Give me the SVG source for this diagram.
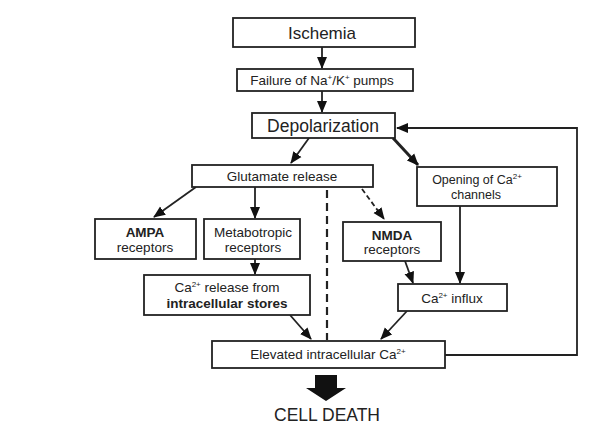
<svg xmlns="http://www.w3.org/2000/svg" width="605" height="440" viewBox="0 0 605 440">
<style>
.box{fill:#fff;stroke:#222;stroke-width:1.8}
.t{font-family:"Liberation Sans",Arial,sans-serif;fill:#222;text-anchor:middle}
.s{font-size:13.5px}
.m{font-size:12.5px}
.b{font-weight:bold}
.sup{font-size:8px}
.ln{fill:none;stroke:#222;stroke-width:1.8}
</style>
<defs>
<marker id="ah" markerUnits="userSpaceOnUse" markerWidth="12" markerHeight="12" viewBox="0 0 12 12" refX="11" refY="6" orient="auto">
<path d="M0,1 L12,6 L0,11 Z" fill="#111"/>
</marker>
</defs>
<rect width="605" height="440" fill="#fff"/>
<g id="connectors">
<line class="ln" x1="322" y1="47" x2="322" y2="68" marker-end="url(#ah)"/>
<line class="ln" x1="322" y1="91" x2="322" y2="112" marker-end="url(#ah)"/>
<line class="ln" x1="309" y1="138" x2="291" y2="163" marker-end="url(#ah)"/>
<line class="ln" x1="393" y1="138" x2="418" y2="165" marker-end="url(#ah)" style="stroke-width:3"/>
<line class="ln" x1="196" y1="187" x2="154" y2="217" marker-end="url(#ah)"/>
<line class="ln" x1="255" y1="187" x2="255" y2="218" marker-end="url(#ah)"/>
<line class="ln" x1="362" y1="189" x2="384" y2="219" marker-end="url(#ah)" stroke-dasharray="5,3"/>
<line class="ln" x1="255" y1="259" x2="255" y2="274" marker-end="url(#ah)"/>
<line class="ln" x1="460" y1="206" x2="460" y2="283" marker-end="url(#ah)"/>
<line class="ln" x1="405" y1="261" x2="413" y2="283" marker-end="url(#ah)"/>
<line class="ln" x1="290" y1="315" x2="311" y2="339" marker-end="url(#ah)"/>
<line class="ln" x1="407" y1="311" x2="381" y2="339" marker-end="url(#ah)"/>
<line class="ln" x1="327" y1="190" x2="327" y2="340" stroke-dasharray="8,5" style="stroke-width:2.2"/>
<polyline class="ln" points="445,355 577,355 577,128 397,128" marker-end="url(#ah)"/>
<path d="M315,375 L337,375 L337,388 L346,388 L326,401 L306,388 L315,388 Z" fill="#111"/>
</g>
<g id="ischemia"><rect class="box" x="233" y="18" width="182" height="29"/><text class="t" x="322" y="38.5" font-size="17">Ischemia</text></g>
<g id="failure"><rect class="box" x="237" y="69" width="176" height="22"/><text class="t s" x="322" y="85">Failure of Na<tspan class="sup" dy="-5">+</tspan><tspan dy="5">/K</tspan><tspan class="sup" dy="-5">+</tspan><tspan dy="5"> pumps</tspan></text></g>
<g id="depolarization"><rect class="box" x="252" y="113" width="143" height="25"/><text class="t" x="323" y="131.5" font-size="17.5">Depolarization</text></g>
<g id="glutamate"><rect class="box" x="192" y="165" width="181" height="22"/><text class="t s" x="282" y="181">Glutamate release</text></g>
<g id="opening"><rect class="box" x="417" y="167" width="140" height="39"/><text class="t m" x="477" y="184">Opening of Ca<tspan class="sup" dy="-5">2+</tspan></text><text class="t m" x="476" y="199">channels</text></g>
<g id="ampa"><rect class="box" x="95" y="219" width="101" height="40"/><text class="t s b" x="145" y="237">AMPA</text><text class="t s" x="145" y="252">receptors</text></g>
<g id="metabotropic"><rect class="box" x="204" y="219" width="96" height="40"/><text class="t s" x="253" y="237">Metabotropic</text><text class="t s" x="253" y="252">receptors</text></g>
<g id="nmda"><rect class="box" x="343" y="222" width="98" height="39"/><text class="t s b" x="392" y="240">NMDA</text><text class="t s" x="392" y="254">receptors</text></g>
<g id="carelease"><rect class="box" x="144" y="275" width="166" height="40"/><text class="t s" x="227" y="292">Ca<tspan class="sup" dy="-5">2+</tspan><tspan dy="5"> release from</tspan></text><text class="t s b" x="227" y="307.5">intracellular stores</text></g>
<g id="cainflux"><rect class="box" x="398" y="284" width="109" height="27"/><text class="t s" x="452" y="302.5">Ca<tspan class="sup" dy="-5">2+</tspan><tspan dy="5"> influx</tspan></text></g>
<g id="elevated"><rect class="box" x="212" y="341" width="233" height="27"/><text class="t s" x="328" y="359">Elevated intracellular Ca<tspan class="sup" dy="-5">2+</tspan></text></g>
<g id="celldeath"><text class="t" x="327" y="421" font-size="17.5">CELL DEATH</text></g>
</svg>
